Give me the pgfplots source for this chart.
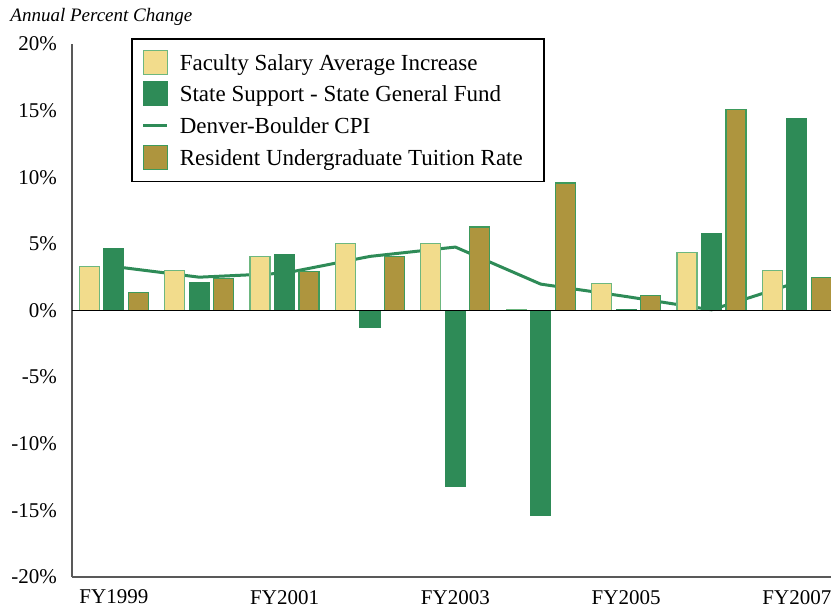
\documentclass[border=0pt]{standalone}
\usepackage{pgfplots}
\pgfplotsset{compat=1.18}
\usepackage{fontspec}
\setmainfont{Liberation Serif}
\definecolor{fac}{HTML}{F2DC8C}
\definecolor{facedge}{HTML}{6DB77F}
\definecolor{st}{HTML}{2E8B57}
\definecolor{tu}{HTML}{AE953E}
\definecolor{tuedge}{HTML}{3E9A5C}
\pgfplotsset{
  sqlegend/.style={legend image code/.code={\draw[##1] (0pt,-2pt) rectangle (12pt,10pt);}},
  linelegend/.style={legend image code/.code={\path (0pt,-2pt) (12pt,10pt);\draw[##1] (0pt,4pt) -- (12pt,4pt);}},
}
\begin{document}
\begin{tikzpicture}
\begin{axis}[name=ax, scale only axis, width=379.5pt, height=266.5pt,
 xmin=-0.49, xmax=8.4, ymin=-20, ymax=20,
 axis x line=bottom, axis y line=left,
 axis line style={draw=black!65, line width=0.6pt, -},
 xtick={0,2,4,6,8}, xticklabels={FY1999,FY2001,FY2003,FY2005,FY2007},
 ytick={-20,-15,-10,-5,0,5,10,15,20},
 yticklabels={-20\%,-15\%,-10\%,-5\%,0\%,5\%,10\%,15\%,20\%},
 major tick length=0pt,
 tick label style={font=\fontsize{10.5}{12}\selectfont},
 yticklabel style={xshift=-4pt},
 xticklabel style={yshift=-3pt},
 legend style={at={(0.0777,1.0113)}, anchor=north west, draw=black, line width=0.8pt,
   font=\fontsize{11.5}{13}\selectfont, inner xsep=5pt, inner ysep=5.5pt, row sep=3pt,
   cells={anchor=base west},
   nodes={inner xsep=5.5pt, inner ysep=0pt, text height=10pt, text depth=2pt}},
]
\addlegendimage{sqlegend, fill=fac, draw=facedge, line width=0.6pt}
\addlegendentry{Faculty Salary Average Increase}
\addlegendimage{sqlegend, fill=st, draw=st, line width=0.6pt}
\addlegendentry{State Support - State General Fund}
\addlegendimage{linelegend, draw=st, line width=1.5pt}
\addlegendentry{Denver-Boulder CPI}
\addlegendimage{sqlegend, fill=tu, draw=tuedge, line width=0.6pt}
\addlegendentry{Resident Undergraduate Tuition Rate}

\addplot[st, line width=1.5pt, forget plot] coordinates {(0,3.3)(1,2.5)(2,2.8)(3,4.06)(4,4.76)(5,1.98)(6,1.05)(7,0.05)(8,2.1)};
\addplot[ybar, bar width=10pt, bar shift=-12.25pt, fill=fac, draw=facedge, line width=0.6pt, forget plot] coordinates {(0,3.33)(1,3.03)(2,4.03)(3,5.04)(4,5.04)(5,0.1)(6,2.0)(7,4.34)(8,3.0)};
\addplot[ybar, bar width=10pt, bar shift=0pt, fill=st, draw=st, line width=0.6pt, forget plot] coordinates {(0,4.66)(1,2.13)(2,4.23)(3,-1.28)(4,-13.2)(5,-15.4)(6,0.1)(7,5.77)(8,14.4)};
\addplot[ybar, bar width=10pt, bar shift=12.25pt, fill=tu, draw=tuedge, line width=0.6pt, forget plot] coordinates {(0,1.33)(1,2.4)(2,2.9)(3,4.06)(4,6.26)(5,9.57)(6,1.1)(7,15.09)(8,2.5)};
\draw[black, line width=0.8pt] (rel axis cs:0,0.5) -- (rel axis cs:1,0.5);
\end{axis}
\node[anchor=base west, inner sep=0pt, font=\itshape\fontsize{9.5}{11}\selectfont] at ([xshift=-31pt, yshift=11pt]ax.north west) {Annual Percent Change};
\pgfresetboundingbox
\path ([xshift=-36pt,yshift=22pt]ax.north west) rectangle ([yshift=-15.5pt]ax.south east);
\end{tikzpicture}
\end{document}
